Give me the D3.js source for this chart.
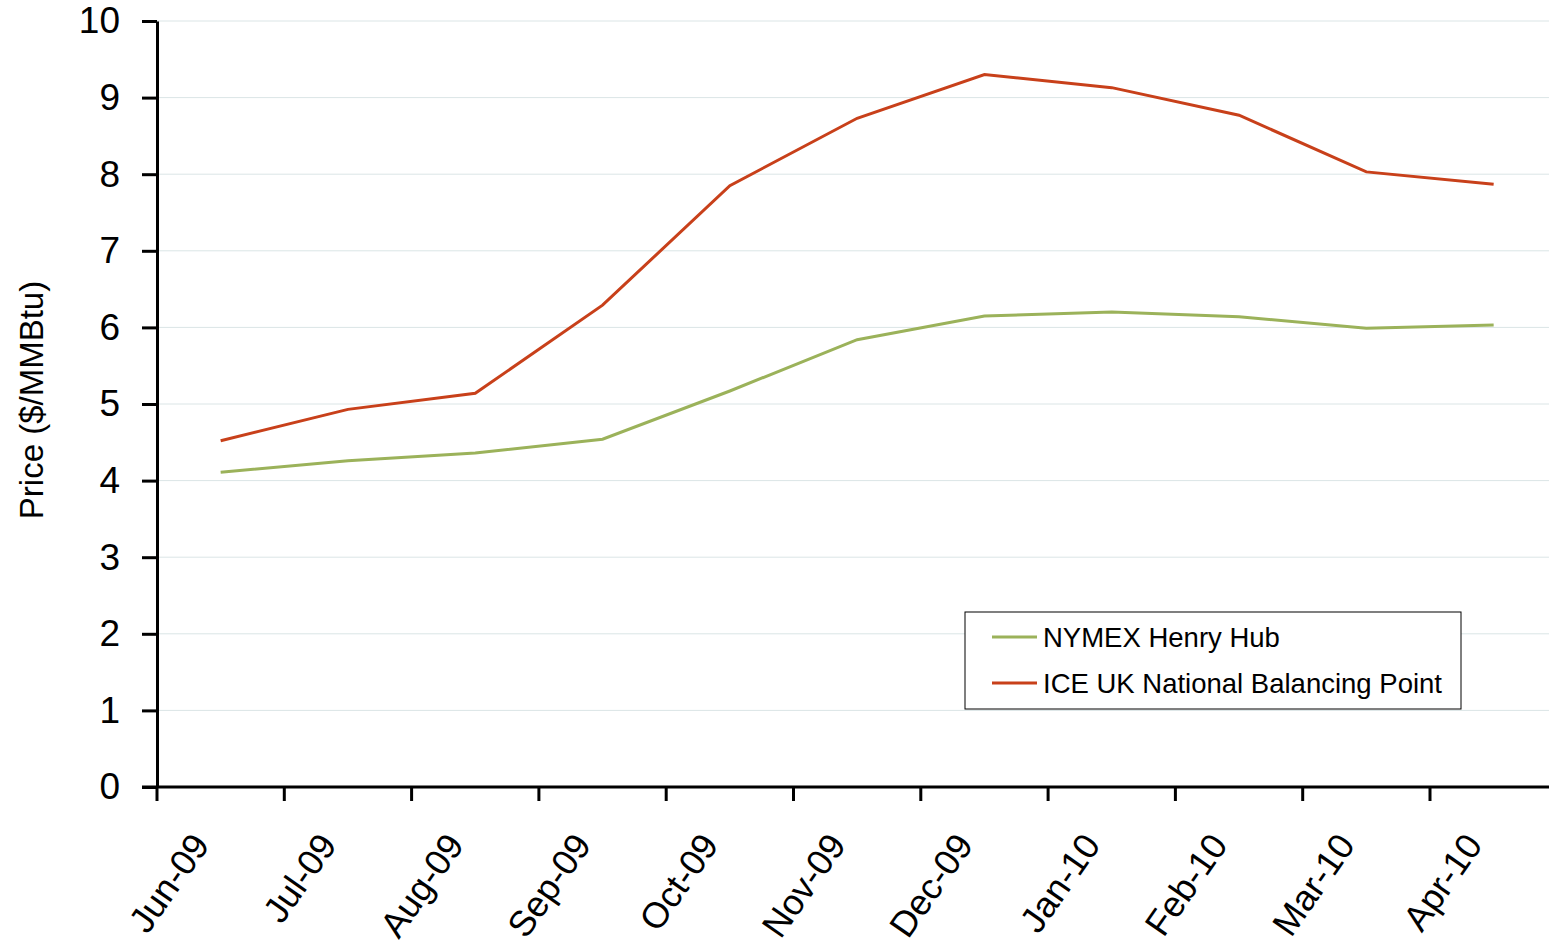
<!DOCTYPE html>
<html>
<head>
<meta charset="utf-8">
<script src="https://cdn.jsdelivr.net/npm/d3@7"></script>
<style>
    body { margin: 0; background: #fff; }
    svg { display: block; font-family: Arial, "Liberation Sans", sans-serif; }
</style>
</head>
<body>
<div id="chart"></div>
<script>
const months = ["Jun-09", "Jul-09", "Aug-09", "Sep-09", "Oct-09", "Nov-09", "Dec-09", "Jan-10", "Feb-10", "Mar-10", "Apr-10"];
const henryHub = [4.11, 4.26, 4.36, 4.54, 5.17, 5.84, 6.15, 6.20, 6.14, 5.99, 6.03];
const nbp = [4.52, 4.93, 5.14, 6.29, 7.85, 8.73, 9.30, 9.13, 8.77, 8.03, 7.87];
const yTicks = [0, 1, 2, 3, 4, 5, 6, 7, 8, 9, 10];

const series = [
    { name: "NYMEX Henry Hub", values: henryHub, color: "#9bb25a" },
    { name: "ICE UK National Balancing Point", values: nbp, color: "#c8401a" }
];

const width = 1549, height = 948;
const margin = { top: 21, left: 157, bottom: 161 };

const svg = d3.select("#chart").append("svg")
    .attr("width", width)
    .attr("height", height);

const x = d3.scaleBand()
    .domain(months)
    .range([margin.left, margin.left + 127.3 * months.length]);

const y = d3.scaleLinear()
    .domain([0, 10])
    .range([height - margin.bottom, margin.top]);

// gridlines
svg.append("g")
    .selectAll("line")
    .data(yTicks.filter(d => d > 0))
    .enter()
    .append("line")
    .attr("x1", margin.left)
    .attr("x2", width)
    .attr("y1", d => y(d))
    .attr("y2", d => y(d))
    .attr("stroke", "#dbe5e6")
    .attr("stroke-width", 1);

// y axis
const yAxis = svg.append("g")
    .attr("transform", `translate(${margin.left},0)`)
    .call(d3.axisLeft(y).tickValues(yTicks).tickSize(15).tickPadding(22).tickSizeOuter(0));
yAxis.select(".domain").attr("stroke", "#000").attr("stroke-width", 3);
yAxis.selectAll(".tick line").attr("stroke", "#000").attr("stroke-width", 3);
yAxis.selectAll(".tick text")
    .style("font-size", "37px")
    .attr("fill", "#000");

// x axis
const xAxis = svg.append("g")
    .attr("transform", `translate(0,${y(0)})`);
xAxis.append("line")
    .attr("x1", margin.left - 15)
    .attr("x2", width)
    .attr("stroke", "#000")
    .attr("stroke-width", 3);
xAxis.selectAll(".xtick")
    .data(months)
    .enter()
    .append("line")
    .attr("class", "xtick")
    .attr("x1", d => x(d))
    .attr("x2", d => x(d))
    .attr("y1", 0)
    .attr("y2", 14)
    .attr("stroke", "#000")
    .attr("stroke-width", 3);
xAxis.selectAll(".xlabel")
    .data(months)
    .enter()
    .append("text")
    .attr("class", "xlabel")
    .attr("transform", d => `translate(${x(d) + x.bandwidth() / 2 - 10},${58}) rotate(-55)`)
    .attr("text-anchor", "end")
    .style("font-size", "36px")
    .text(d => d);

// y axis title
svg.append("text")
    .attr("transform", `translate(43,${400}) rotate(-90)`)
    .attr("text-anchor", "middle")
    .style("font-size", "33px")
    .text("Price ($/MMBtu)");

// lines
const line = d3.line()
    .x((d, i) => x(months[i]) + x.bandwidth() / 2)
    .y(d => y(d));

svg.append("g")
    .selectAll("path")
    .data(series)
    .enter()
    .append("path")
    .attr("d", d => line(d.values))
    .attr("fill", "none")
    .attr("stroke", d => d.color)
    .attr("stroke-width", 3);

// legend
const legend = svg.append("g")
    .attr("transform", "translate(965,612)");
legend.append("rect")
    .attr("width", 496)
    .attr("height", 97)
    .attr("fill", "#fff")
    .attr("stroke", "#000")
    .attr("stroke-width", 1);
series.forEach((s, i) => {
    const row = legend.append("g")
        .attr("transform", `translate(0,${25 + i * 46})`);
    row.append("line")
        .attr("x1", 27)
        .attr("x2", 72)
        .attr("stroke", s.color)
        .attr("stroke-width", 3);
    row.append("text")
        .attr("x", 78)
        .attr("dy", "0.35em")
        .style("font-size", "27.5px")
        .text(s.name);
});
</script>
</body>
</html>
